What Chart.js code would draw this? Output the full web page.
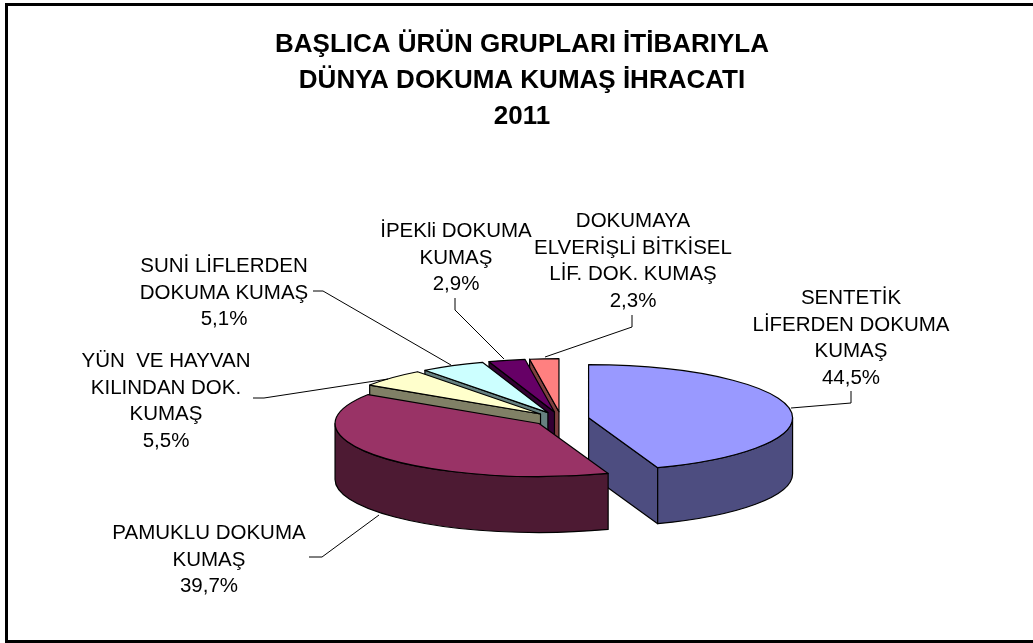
<!DOCTYPE html>
<html lang="tr">
<head>
<meta charset="utf-8">
<title>Dünya dokuma kumaş ihracatı 2011</title>
<script src="https://cdn.jsdelivr.net/npm/chart.js@4"></script>
<style>
  html, body { margin: 0; height: 100%; background: #fff; overflow: hidden; }
  #frame { position: absolute; left: 5px; top: 3px; right: -10px; bottom: 0; border: 3px solid #000; }
  #chart { position: absolute; left: 0; top: 0; }
</style>
</head>
<body>
<div id="frame"></div>
<canvas id="chart" width="1033" height="643"></canvas>
<script>
// Chart data
const titleLines = ['BAŞLICA ÜRÜN GRUPLARI İTİBARIYLA', 'DÜNYA DOKUMA KUMAŞ İHRACATI', '2011'];
const categories = [
  ['SENTETİK', 'LİFERDEN DOKUMA', 'KUMAŞ'],
  ['PAMUKLU DOKUMA', 'KUMAŞ'],
  ['YÜN  VE HAYVAN', 'KILINDAN DOK.', 'KUMAŞ'],
  ['SUNİ LİFLERDEN', 'DOKUMA KUMAŞ'],
  ['İPEKli DOKUMA', 'KUMAŞ'],
  ['DOKUMAYA', 'ELVERİŞLİ BİTKİSEL', 'LİF. DOK. KUMAŞ']
];
const shares = [44.5, 39.7, 5.5, 5.1, 2.9, 2.3];

// Colours: top face and side walls
const topColors = ['#9999FF', '#993366', '#FFFFCC', '#CCFFFF', '#660066', '#FF8080'];
const sideColors = ['#4D4D80', '#4D1A33', '#808066', '#668080', '#330033', '#804040'];

// Layout of the tilted pie
const PIE_X = 561;
const PIE_Y = 419;
const PIE_RADIUS = 204;
const PIE_EXPLODE = 28;
const TILT = 0.26;
const DEPTH = 56;
const drawOrder = [0, 5, 4, 3, 2, 1]; // back to front

// Label anchors (centre x, first baseline y) and leader lines
const labelAnchors = [[851, 304], [209, 539], [166, 367], [224, 272], [456, 237], [633, 227]];
const leaderLines = [
  [[791, 408], [851, 403], [851, 391]],
  [[379, 515], [322, 557], [309, 557]],
  [[388, 379], [264, 398], [253, 398]],
  [[451, 365], [323, 291], [313, 291]],
  [[504, 359], [455, 310], [455, 298]],
  [[545, 357], [632, 327], [632, 315]]
];
const LABEL_FONT = '20.5px "Liberation Sans", Arial, sans-serif';
const LABEL_LINE = 26.7;

// Draws the exploded pie with depth, using the arcs the controller computed
const pie3d = {
  id: 'pie3d',
  beforeDatasetDraw(chart, args) {
    const ctx = chart.ctx;
    ctx.save();
    ctx.lineWidth = 1.2;
    ctx.strokeStyle = '#000';
    ctx.lineJoin = 'round';
    drawOrder.forEach(i => {
      const arc = args.meta.data[i];
      const mid = (arc.startAngle + arc.endAngle) / 2;
      const x = PIE_X + Math.cos(mid) * PIE_EXPLODE;
      const y = PIE_Y + Math.sin(mid) * PIE_EXPLODE * TILT;
      const rx = arc.outerRadius;
      const ry = arc.outerRadius * TILT;
      ctx.fillStyle = sideColors[i];

      // Cut faces that look towards the viewer
      [[arc.startAngle, -Math.PI / 2], [arc.endAngle, Math.PI / 2]].forEach(([a, turn]) => {
        if (Math.sin(a + turn) < 0.01) return;
        const ex = x + Math.cos(a) * rx;
        const ey = y + Math.sin(a) * ry;
        ctx.beginPath();
        ctx.moveTo(x, y);
        ctx.lineTo(ex, ey);
        ctx.lineTo(ex, ey + DEPTH);
        ctx.lineTo(x, y + DEPTH);
        ctx.closePath();
        ctx.fill();
        ctx.stroke();
      });

      // Outer wall, only the front half of the ellipse shows
      const lo = Math.max(arc.startAngle, 0);
      const hi = Math.min(arc.endAngle, Math.PI);
      if (hi > lo) {
        ctx.beginPath();
        ctx.ellipse(x, y, rx, ry, 0, lo, hi);
        ctx.ellipse(x, y + DEPTH, rx, ry, 0, hi, lo, true);
        ctx.closePath();
        ctx.fill();
        ctx.stroke();
      }

      // Top face: the library draws the arc, squashed by the tilt
      ctx.save();
      ctx.translate(x, y);
      ctx.scale(1, TILT);
      ctx.translate(-arc.x, -arc.y);
      arc.draw(ctx);
      ctx.restore();

      ctx.beginPath();
      ctx.moveTo(x, y);
      ctx.ellipse(x, y, rx, ry, 0, arc.startAngle, arc.endAngle);
      ctx.closePath();
      ctx.stroke();
    });
    ctx.restore();
    return false;
  },
  afterDraw(chart) {
    const ctx = chart.ctx;
    ctx.save();
    // Leader lines
    ctx.strokeStyle = '#000';
    ctx.lineWidth = 1;
    leaderLines.forEach(points => {
      ctx.beginPath();
      points.forEach(([px, py], k) => (k ? ctx.lineTo(px, py) : ctx.moveTo(px, py)));
      ctx.stroke();
    });
    // Category and share labels
    ctx.fillStyle = '#000';
    ctx.font = LABEL_FONT;
    ctx.textAlign = 'center';
    ctx.textBaseline = 'alphabetic';
    categories.forEach((lines, i) => {
      const [lx, ly] = labelAnchors[i];
      const share = shares[i].toFixed(1).replace('.', ',') + '%';
      lines.concat(share).forEach((line, k) => ctx.fillText(line, lx, ly + k * LABEL_LINE));
    });
    ctx.restore();
  }
};

const chart = new Chart(document.getElementById('chart'), {
  type: 'pie',
  data: {
    labels: categories.map(c => c.join(' ')),
    datasets: [{
      data: shares,
      backgroundColor: topColors,
      borderWidth: 0
    }]
  },
  options: {
    responsive: false,
    animation: false,
    radius: PIE_RADIUS,
    layout: { padding: { left: 11, top: 27 } },
    plugins: {
      legend: { display: false },
      tooltip: { enabled: false },
      title: {
        display: true,
        text: titleLines,
        color: '#000',
        font: { family: '"Liberation Sans", Arial, sans-serif', size: 26, weight: 'bold', lineHeight: 36 / 26 },
        padding: 0
      }
    }
  },
  plugins: [pie3d]
});
</script>
</body>
</html>
